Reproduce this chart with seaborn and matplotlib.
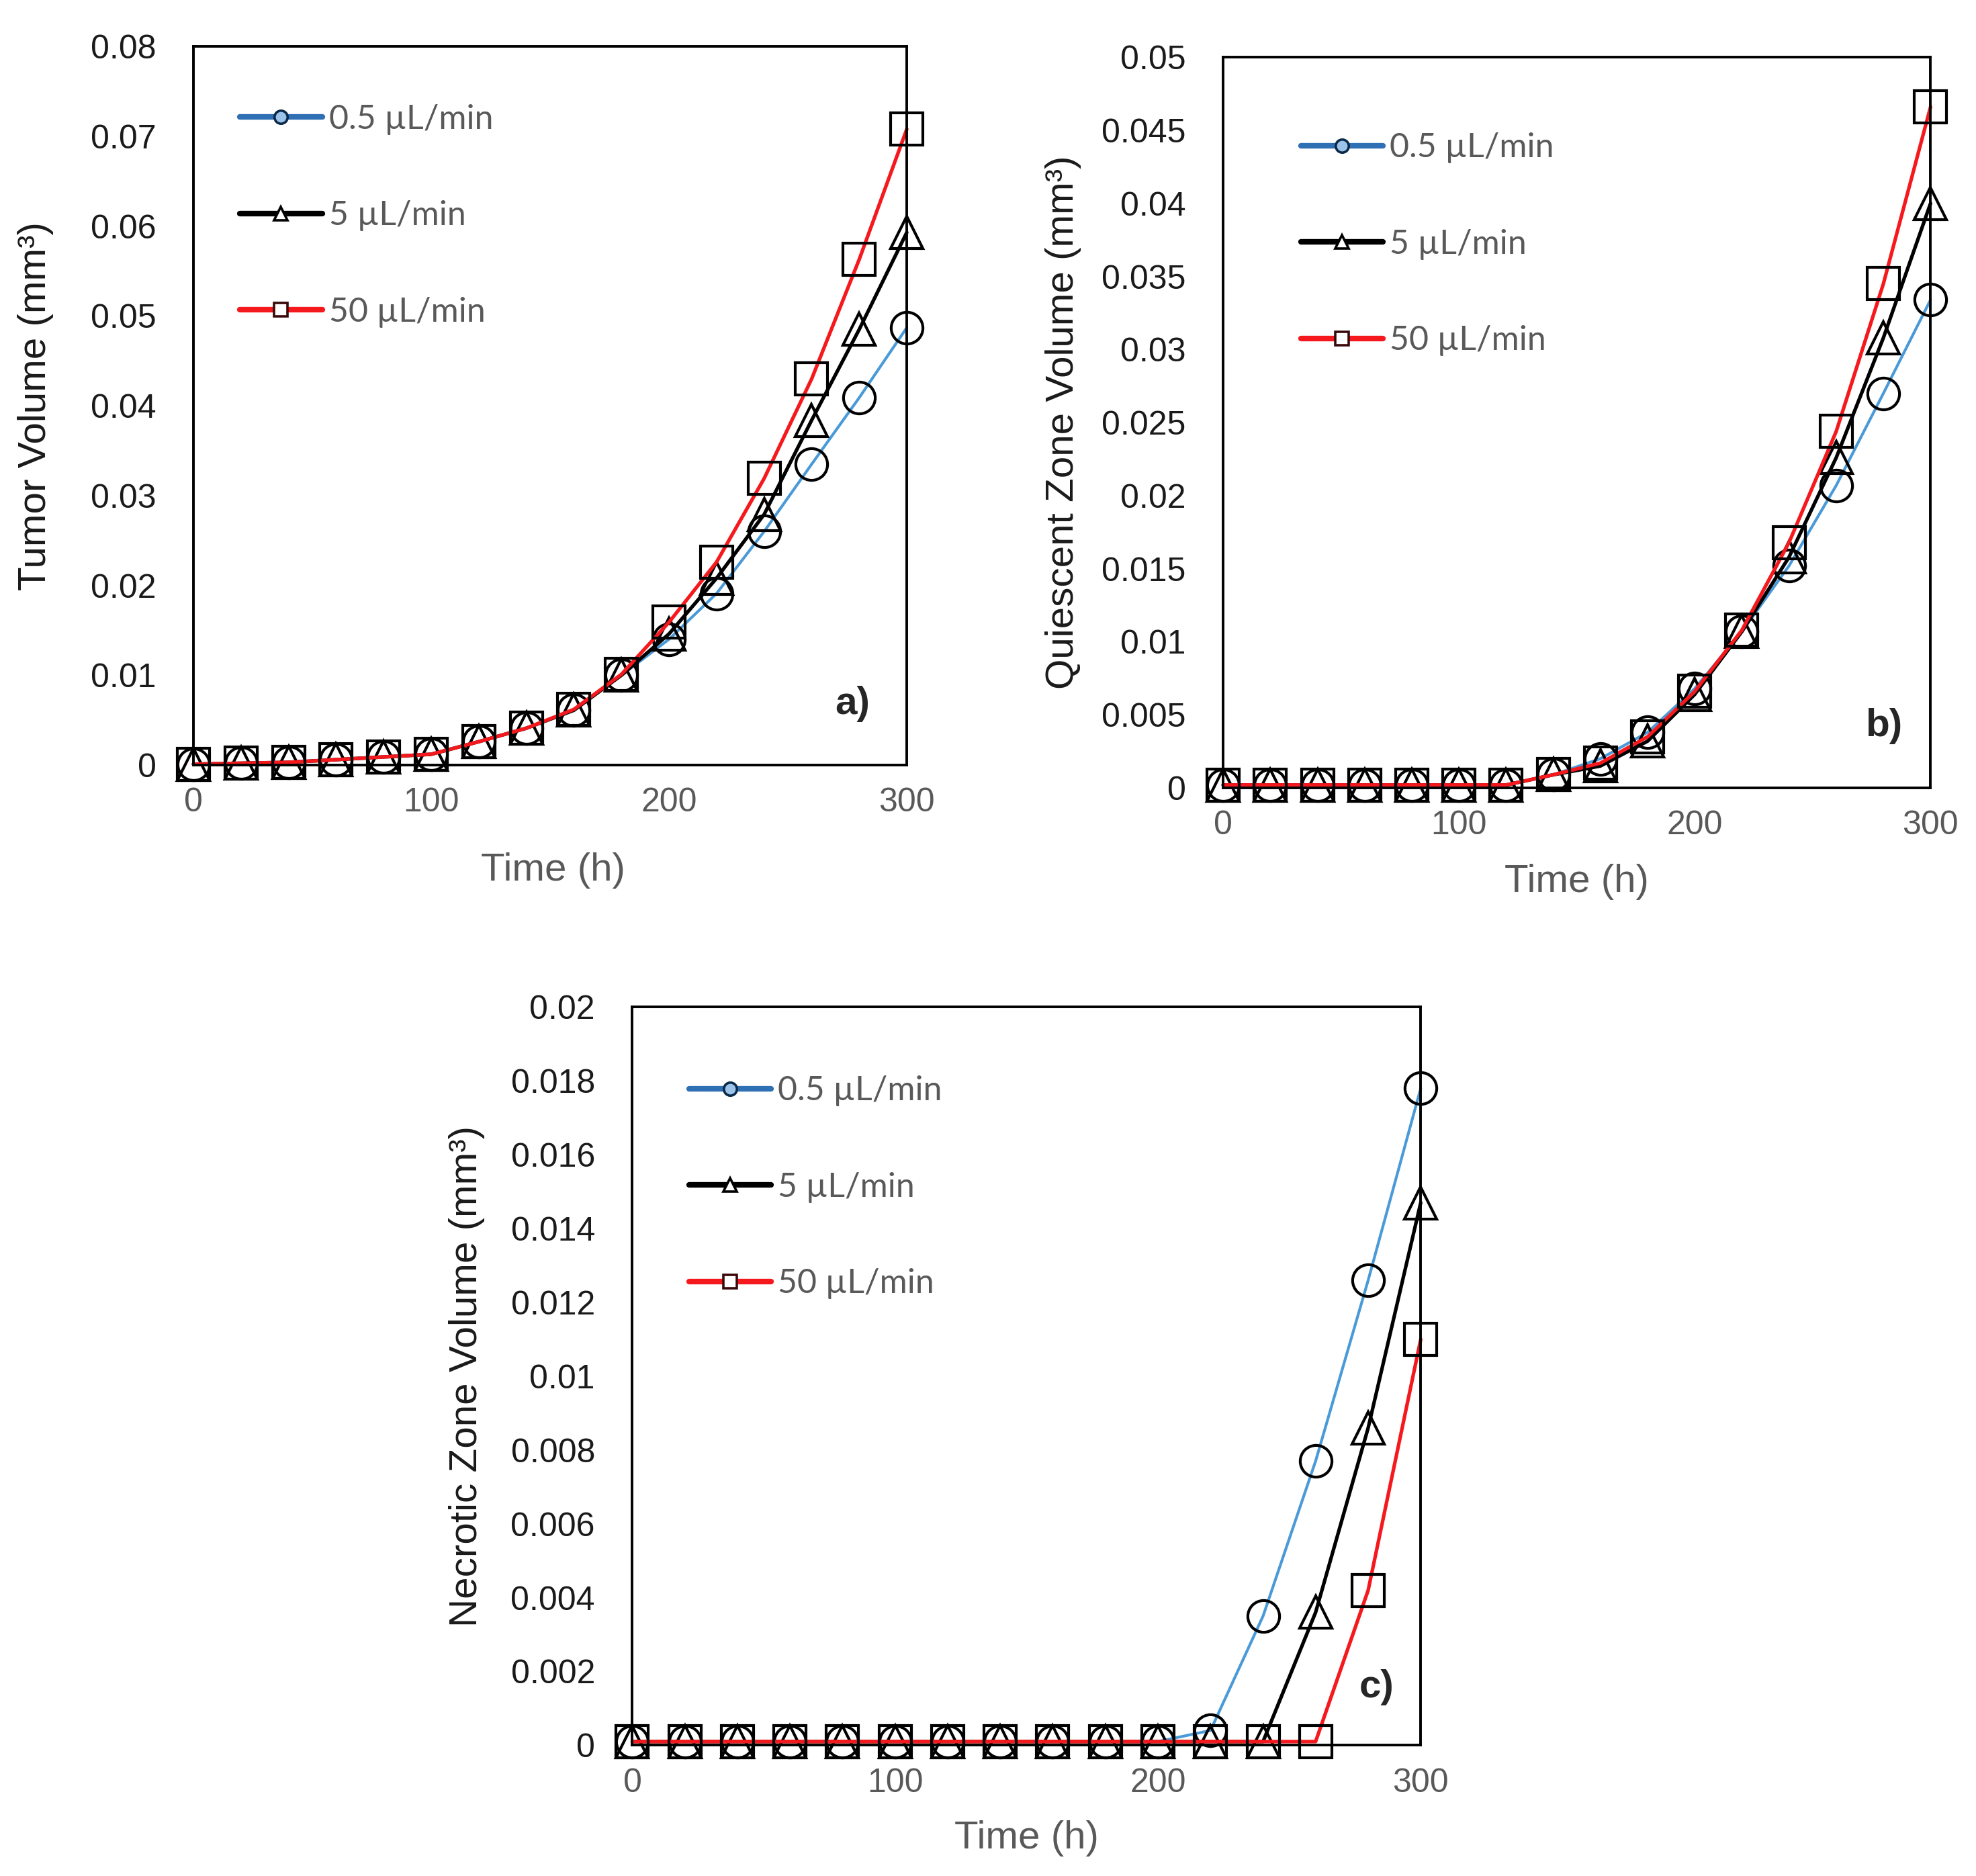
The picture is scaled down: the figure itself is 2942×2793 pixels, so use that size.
import numpy as np
import pandas as pd
import seaborn as sns
import matplotlib.pyplot as plt
from matplotlib.lines import Line2D
from matplotlib.ticker import FuncFormatter

# time points (h)
time_h = [0, 20, 40, 60, 80, 100, 120, 140, 160, 180, 200, 220, 240, 260, 280, 300]
rates = ["0.5 µL/min", "5 µL/min", "50 µL/min"]

# a) tumor volume (mm3)
tumor_05 = [0.0001, 0.0002, 0.0003, 0.0006, 0.0009, 0.0012, 0.0026, 0.0041, 0.0061, 0.0100,
            0.0140, 0.0191, 0.0260, 0.0335, 0.0409, 0.0487]
tumor_5 = [0.0001, 0.0002, 0.0003, 0.0006, 0.0009, 0.0012, 0.0026, 0.0041, 0.0061, 0.0100,
           0.0146, 0.0208, 0.0279, 0.0384, 0.0485, 0.0593]
tumor_50 = [0.0001, 0.0002, 0.0003, 0.0006, 0.0009, 0.0012, 0.0026, 0.0041, 0.0062, 0.0101,
            0.0159, 0.0226, 0.0319, 0.0430, 0.0563, 0.0708]

# b) quiescent zone volume (mm3)
quies_05 = [0.0002, 0.0002, 0.0002, 0.0002, 0.0002, 0.0002, 0.0002, 0.0009, 0.0020, 0.0038,
            0.0068, 0.0107, 0.0152, 0.0207, 0.0270, 0.0334]
quies_5 = [0.0002, 0.0002, 0.0002, 0.0002, 0.0002, 0.0002, 0.0002, 0.0009, 0.0015, 0.0032,
           0.0064, 0.0107, 0.0158, 0.0226, 0.0308, 0.0400]
quies_50 = [0.0002, 0.0002, 0.0002, 0.0002, 0.0002, 0.0002, 0.0002, 0.0009, 0.0017, 0.0035,
            0.0066, 0.0108, 0.0168, 0.0244, 0.0345, 0.0466]

# c) necrotic zone volume (mm3)
necro_05 = [0.0001, 0.0001, 0.0001, 0.0001, 0.0001, 0.0001, 0.0001, 0.0001, 0.0001, 0.0001,
            0.0001, 0.0004, 0.0035, 0.0077, 0.0126, 0.0178]
necro_5 = [0.0001, 0.0001, 0.0001, 0.0001, 0.0001, 0.0001, 0.0001, 0.0001, 0.0001, 0.0001,
           0.0001, 0.0001, 0.0001, 0.0036, 0.0086, 0.0147]
necro_50 = [0.0001, 0.0001, 0.0001, 0.0001, 0.0001, 0.0001, 0.0001, 0.0001, 0.0001, 0.0001,
            0.0001, 0.0001, 0.0001, 0.0001, 0.0042, 0.0110]

colors = ["#4a9ad8", "#000000", "#f5191e"]
widths = [1.5, 1.9, 1.9]
markers = ["o", "^", "s"]

sns.set_theme(style="white")
plt.rcParams["font.family"] = ["Liberation Sans", "DejaVu Sans"]

fig = plt.figure(figsize=(14.71, 13.965), dpi=200)

panels = [
    dict(rect=[0.0979, 0.5922, 0.361, 0.383], series=[tumor_05, tumor_5, tumor_50],
         ymax=0.08, ystep=0.01, ylabel="Tumor Volume (mm³)", tag="a)",
         ylab=(-0.196, 0.5), xlab=(0.504, -0.122), leg=(0.065, 0.92), tagpos=(0.924, 0.085)),
    dict(rect=[0.619, 0.580, 0.358, 0.3895], series=[quies_05, quies_5, quies_50],
         ymax=0.05, ystep=0.005, ylabel="Quiescent Zone Volume (mm³)", tag="b)",
         ylab=(-0.2, 0.5), xlab=(0.5, -0.104), leg=(0.11, 0.897), tagpos=(0.934, 0.085)),
    dict(rect=[0.3200, 0.0697, 0.399, 0.3935], series=[necro_05, necro_5, necro_50],
         ymax=0.02, ystep=0.002, ylabel="Necrotic Zone Volume (mm³)", tag="c)",
         ylab=(-0.187, 0.5), xlab=(0.5, -0.102), leg=(0.072, 0.907), tagpos=(0.944, 0.079)),
]

for p in panels:
    ax = fig.add_axes(p["rect"])
    for vals, rate, col, lw, mk in zip(p["series"], rates, colors, widths, markers):
        df = pd.DataFrame({"time": time_h, "volume": vals, "rate": rate})
        sns.lineplot(data=df, x="time", y="volume", color=col, linewidth=lw, marker=mk,
                     markersize=17, markerfacecolor="none", markeredgecolor="black",
                     markeredgewidth=1.5, clip_on=False, ax=ax, legend=False)

    ax.set_xlim(0, 300)
    ax.set_ylim(0, p["ymax"])
    ax.set_xticks([0, 100, 200, 300])
    ax.set_yticks(np.arange(0, p["ymax"] + p["ystep"] / 2, p["ystep"]))
    ax.yaxis.set_major_formatter(FuncFormatter(lambda v, pos: "%g" % round(v, 4)))
    ax.tick_params(axis="y", length=0, pad=20, labelsize=18, labelcolor="#1a1a1a")
    ax.tick_params(axis="x", length=0, pad=12, labelsize=18, labelcolor="#595959")
    for s in ax.spines.values():
        s.set_color("black")
        s.set_linewidth(1.4)

    ax.set_xlabel("Time (h)", fontsize=21, color="#595959")
    ax.set_ylabel(p["ylabel"], fontsize=21, color="#1a1a1a")
    ax.xaxis.set_label_coords(*p["xlab"])
    ax.yaxis.set_label_coords(*p["ylab"])

    ax.text(p["tagpos"][0], p["tagpos"][1], p["tag"], transform=ax.transAxes,
            fontsize=21, fontweight="bold", ha="center", va="center")

    handles = [
        Line2D([], [], color="#2f6fb3", lw=3, marker="o", ms=7, mfc="#9cc3ea", mec="#0b2a4a", mew=1.3),
        Line2D([], [], color="black", lw=3, marker="^", ms=7, mfc="white", mec="black", mew=1.3),
        Line2D([], [], color="#f5191e", lw=3, marker="s", ms=7, mfc="white", mec="#3a0a0a", mew=1.3),
    ]
    leg = ax.legend(handles, rates, loc="upper left", bbox_to_anchor=p["leg"], frameon=False,
                    labelspacing=1.95, handlelength=2.45, handletextpad=0.2,
                    borderpad=0, borderaxespad=0, prop={"family": ["Lato", "DejaVu Sans"], "size": 18})
    for t in leg.get_texts():
        t.set_color("#595959")

fig.savefig("out.png", dpi=200, facecolor="white")
